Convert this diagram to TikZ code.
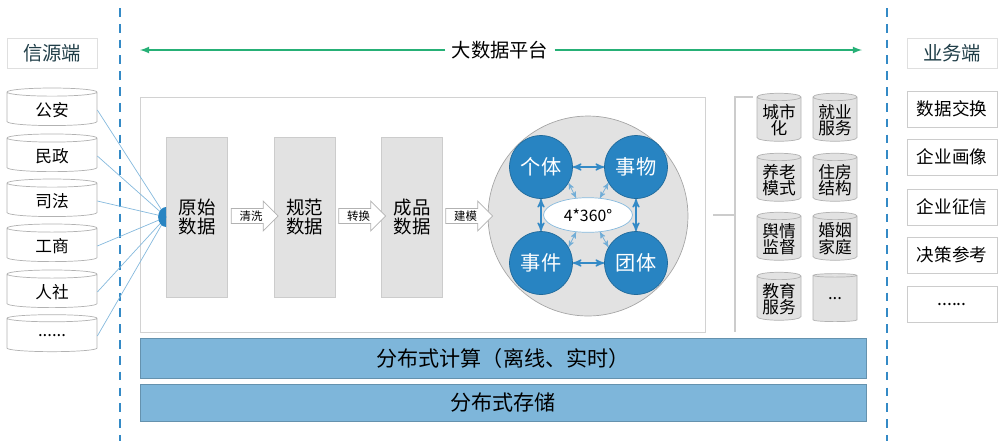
\documentclass[tikz,border=0pt]{standalone}
\usepackage{fontspec}
\setmainfont{Noto Sans CJK SC}
\usepackage{tikz}
\usetikzlibrary{arrows,shapes.geometric,shapes.arrows,shadows}
\definecolor{sepblue}{RGB}{52,138,198}
\definecolor{ballblue}{RGB}{40,132,194}
\definecolor{platgreen}{RGB}{38,176,118}
\definecolor{barblue}{RGB}{126,182,218}
\definecolor{procgray}{RGB}{226,226,226}
\definecolor{headtxt}{RGB}{32,62,72}
\newcommand\pfont[1]{\fontsize{#1}{#1}\selectfont}
\newcommand\longdots{......}
\newcommand\shortdots{...}
\tikzstyle{arr}=[<->,>=stealth']
\tikzstyle{garr}=[->,>=latex,platgreen,thick]
\tikzstyle{divider}=[sepblue,line width=1.6pt,dash pattern=on 5pt off 4pt]
\tikzstyle{endhead}=[draw=gray!25,minimum width=1.8cm,minimum height=0.6cm,
  text=headtxt,font=\pfont{11}]
\tikzstyle{srcdb}=[cylinder,shape border rotate=90,aspect=0.18,draw=gray!60,
  fill=white,minimum width=1.8cm,minimum height=0.74cm,font=\pfont{9.5}]
\tikzstyle{proc}=[draw=gray!40,fill=procgray,minimum width=1.22cm,
  minimum height=3.2cm,align=center,font=\pfont{10.5}]
\tikzstyle{blk}=[single arrow,draw=gray!60,fill=white,minimum height=0.94cm,
  minimum width=0.6cm,single arrow head extend=0.15cm,inner sep=1pt,font=\pfont{6.5}]
\tikzstyle{ball}=[circle,fill=ballblue,draw=ballblue!80!black,minimum size=1.26cm,
  text=white,font=\pfont{11.5}]
\tikzstyle{topic}=[cylinder,shape border rotate=90,aspect=0.2,draw=gray!60,
  fill=procgray,minimum width=0.88cm,minimum height=0.96cm,align=center,
  inner sep=1pt,font=\pfont{9.5}]
\tikzstyle{svcbox}=[draw=gray!40,fill=white,minimum width=1.8cm,minimum height=0.72cm,
  drop shadow={shadow xshift=0.6pt,shadow yshift=-0.8pt,opacity=0.25},font=\pfont{10}]
\tikzstyle{layer}=[draw=barblue!80!black,fill=barblue,minimum width=14.52cm,font=\pfont{12}]

\begin{document}
\begin{tikzpicture}[x=0.02cm,y=-0.02cm]
\useasboundingbox (0,0) rectangle (1002,441);
% dividers and the two ends
\draw[divider] (120,8) -- (120,441);
\draw[divider] (887,8) -- (887,441);
\node[endhead] (srchead) at (52,53) {信源端};
\node[endhead] (svchead) at (952,53) {业务端};
% platform
\node[draw=gray!35,minimum width=11.3cm,minimum height=4.7cm] (plat) at (422.5,214.5) {};
\node[fill=white,font=\pfont{11}] (platlbl) at (500,50) {大数据平台};
\coordinate (pl) at (140,50);
\coordinate (pr) at (862,50);
\draw[garr] (platlbl) -- (pl);
\draw[garr] (platlbl) -- (pr);
% sources
\foreach \t/\y [count=\i] in {公安/110,民政/156,司法/201,工商/246,人社/292,\longdots/336}
  \node[srcdb] (s\i) at (52,\y) {\t};
\node[proc] (raw) at (197,217) {原始\\数据};
\node[proc] (std) at (304.5,217) {规范\\数据};
\node[proc] (fin) at (412,217) {成品\\数据};
\coordinate (hub) at (raw.west);
\foreach \i in {1,...,6}
  \draw[sepblue!60] (s\i.east) -- (hub);
\fill[ballblue] ([yshift=0.2cm]hub) arc[start angle=90,end angle=270,
  x radius=0.16cm,y radius=0.2cm] -- cycle;
\node[blk] (wash) at (251,216) {清洗};
\node[blk] (conv) at (358.5,216) {转换};
% the 4*360 view
\node[circle,draw=gray!70,fill=procgray,minimum size=4cm] (cube) at (588,216) {};
\node[blk] (model) at (465.5,216) {建模};
\node[ball] (ind) at (541,167) {个体};
\node[ball] (obj) at (636,167) {事物};
\node[ball] (evt) at (541,263) {事件};
\node[ball] (grp) at (636,263) {团体};
\node[ellipse,draw=sepblue!60,fill=white,minimum width=1.78cm,minimum height=0.68cm,
  font=\pfont{9}] (deg) at (588,215) {4*360°};
\draw[arr,sepblue,thick] (ind) -- (obj);
\draw[arr,sepblue,thick] (evt) -- (grp);
\draw[arr,sepblue,thick] (ind) -- (evt);
\draw[arr,sepblue,thick] (obj) -- (grp);
\draw[arr,sepblue!70] (deg.125) -- (ind.-30);
\draw[arr,sepblue!70] (deg.55) -- (obj.-150);
\draw[arr,sepblue!70] (deg.-125) -- (evt.30);
\draw[arr,sepblue!70] (deg.-55) -- (grp.150);
% topics
\coordinate (bt) at (753,97);
\coordinate (bc) at (735,97);
\coordinate (bb) at (735,332);
\coordinate (bm) at (713,215);
\coordinate (bj) at (735,215);
\draw[gray!40,thick] (bt) -- (bc) -- (bb);
\draw[gray!40,thick] (bm) -- (bj);
\foreach \t/\x/\y [count=\i] in {城市\\化/779/120,养老\\模式/779/180,舆情\\监督/779/239,
    教育\\服务/779/299,就业\\服务/835/120,住房\\结构/835/180,婚姻\\家庭/835/239,\shortdots/835/299}
  \node[topic] (t\i) at (\x,\y) {\t};
% services
\foreach \t/\y [count=\i] in {数据交换/109,企业画像/157,企业征信/207,决策参考/255,\longdots/304}
  \node[svcbox] (u\i) at (952,\y) {\t};
% computing and storage
\node[layer,minimum height=0.8cm] (calc) at (503,358) {分布式计算（离线、实时）};
\node[layer,minimum height=0.74cm] (store) at (503,402.5) {分布式存储};
\end{tikzpicture}
\end{document}
